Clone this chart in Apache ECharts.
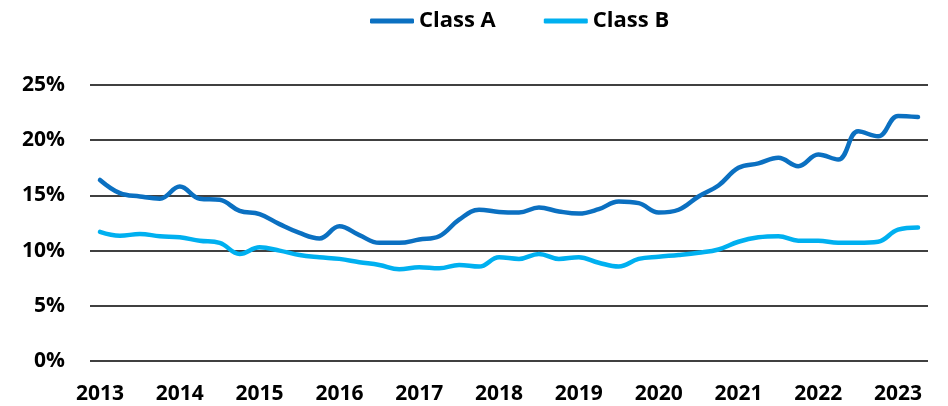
<!DOCTYPE html>
<html><head><meta charset="utf-8">
<script src="https://cdn.jsdelivr.net/npm/echarts@6/dist/echarts.min.js"></script>
<style>html,body{margin:0;padding:0;background:#fff}#c{width:948px;height:406px}</style>
</head><body><div id="c"></div>
<script>
const years = ['2013','2014','2015','2016','2017','2018','2019','2020','2021','2022','2023'];
const quarters = [];
for (let y = 2013; y <= 2023; y++) for (let q = 1; q <= 4; q++) quarters.push(y + 'Q' + q);
const categories = quarters.slice(0, 42);
const classA = [16.4,15.2,14.9,14.7,15.8,14.7,14.6,13.6,13.3,12.4,11.6,11.1,12.2,11.4,10.7,10.7,11.0,11.3,12.8,13.7,13.5,13.45,13.9,13.55,13.35,13.75,14.45,14.3,13.45,13.7,14.9,15.9,17.5,17.9,18.4,17.65,18.7,18.25,20.8,20.35,22.2,22.1];
const classB = [11.7,11.35,11.5,11.3,11.2,10.9,10.7,9.7,10.3,10.0,9.6,9.4,9.25,8.95,8.7,8.3,8.5,8.4,8.7,8.55,9.4,9.25,9.7,9.25,9.4,8.9,8.55,9.25,9.45,9.6,9.8,10.1,10.8,11.2,11.3,10.9,10.9,10.7,10.7,10.8,11.9,12.1];
const yTicks = [0,5,10,15,20,25];

const chart = echarts.init(document.getElementById('c'));
const font = '"Open Sans", sans-serif';
chart.setOption({
  animation: false,
  legend: {
    top: 5, left: 365,
    icon: 'roundRect', itemWidth: 44, itemHeight: 5, itemGap: 48,
    textStyle: {fontFamily: font, fontWeight: 'bold', fontSize: 22, color: '#000'},
    data: ['Class A','Class B']
  },
  grid: {left: 90, right: 20, top: 85, bottom: 45, containLabel: false},
  xAxis: {
    type: 'category', data: categories, boundaryGap: true,
    axisLine: {show: false}, axisTick: {show: false},
    axisLabel: {interval: 3, margin: 23, fontFamily: font, fontWeight: 'bold', fontSize: 21, color: '#000',
      formatter: v => v.slice(0,4)}
  },
  yAxis: {
    type: 'value', min: yTicks[0], max: yTicks[yTicks.length-1], interval: 5,
    axisLine: {show: false}, axisTick: {show: false},
    splitLine: {lineStyle: {color: '#000', width: 1.5}},
    axisLabel: {margin: 25, fontFamily: font, fontWeight: 'bold', fontSize: 21, color: '#000', formatter: '{value}%'}
  },
  series: [
    {name: 'Class A', type: 'line', data: classA, smooth: 0.4, showSymbol: false, symbol: 'none',
     lineStyle: {color: '#0B70C1', width: 4.5, cap: 'round'}, itemStyle: {color: '#0B70C1'}},
    {name: 'Class B', type: 'line', data: classB, smooth: 0.4, showSymbol: false, symbol: 'none',
     lineStyle: {color: '#00B0F0', width: 4.5, cap: 'round'}, itemStyle: {color: '#00B0F0'}}
  ]
});
</script></body></html>
